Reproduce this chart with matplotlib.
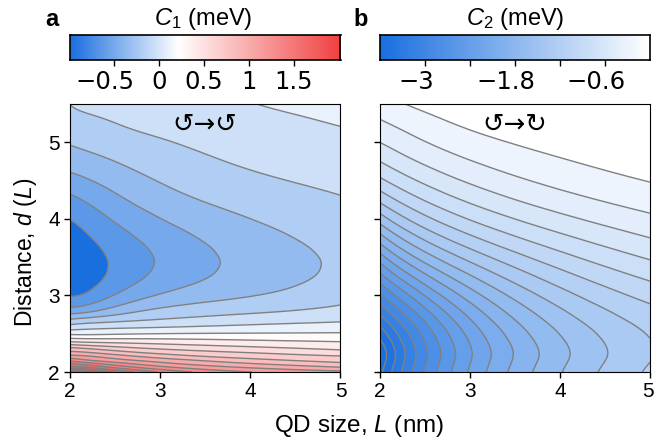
import numpy as np
import matplotlib
matplotlib.use("Agg")
import matplotlib.pyplot as plt
from matplotlib.colors import LinearSegmentedColormap, Normalize
from matplotlib.transforms import ScaledTranslation

W, H = 654, 443
FONT = "Liberation Sans"
plt.rcParams["font.family"] = FONT
plt.rcParams["mathtext.fontset"] = "custom"
plt.rcParams["mathtext.rm"] = FONT
plt.rcParams["mathtext.it"] = FONT + ":italic"
plt.rcParams["contour.negative_linestyle"] = "solid"

# ---- panel a: C1, in units of contour steps above C1_BASE
C1_BASE, C1_STEP = -0.88, 0.15
L_A = [2, 2.5, 3, 3.5, 4, 4.5, 5]
D_A = [2.0, 2.05, 2.1, 2.15, 2.2, 2.25, 2.3, 2.4, 2.5, 2.6, 2.7, 2.8, 2.9, 3.0,
       3.2, 3.4, 3.6, 3.8, 4.0, 4.3, 4.6, 5.0, 5.25, 5.5]
A_L20 = [21, 18, 16.4, 14.85, 13.45, 12.35, 11.45, 8.9, 6.8, 5.25, 3.85, 2.5, 1.6, 0.85,
         0.4, 0.2, 0.3, 0.6, 0.95, 1.97, 2.97, 4.03, 4.5, 5.0]
A_L25 = [18, 16.15, 14.7, 13.45, 12.55, 11.55, 10.6, 8.65, 6.88, 5.65, 4.5, 3.38, 2.67, 2.0,
         1.45, 1.1, 1.25, 1.68, 2.12, 2.88, 3.65, 4.5, 5.0, 5.4]
A_L30 = [16, 14.65, 13.55, 12.62, 11.7, 10.8, 10, 8.5, 7.0, 5.8, 4.95, 4.2, 3.65, 3.15,
         2.4, 2.05, 2.2, 2.55, 3.0, 3.62, 4.23, 5.0, 5.28, 5.55]
A_L35 = [14.6, 13.55, 12.65, 11.9, 11.0, 10.33, 9.65, 8.35, 7.06, 6.0, 5.12, 4.55, 4.0, 3.6,
         2.97, 2.8, 2.9, 3.2, 3.6, 4.15, 4.6, 5.2, 5.47, 5.74]
A_L40 = [14.1, 13.15, 12.25, 11.4, 10.65, 10.03, 9.38, 8.2, 7.08, 6.14, 5.4, 4.85, 4.35, 3.95,
         3.5, 3.35, 3.45, 3.68, 3.98, 4.47, 4.95, 5.43, 5.7, 5.98]
A_L45 = [13.6, 12.65, 11.77, 11.0, 10.37, 9.75, 9.12, 8.05, 7.08, 6.25, 5.58, 5.0, 4.6, 4.3,
         3.93, 3.75, 3.85, 4.05, 4.35, 4.8, 5.18, 5.65, 5.9, 6.15]
A_L50 = [13.3, 12.23, 11.33, 10.66, 10.1, 9.47, 8.88, 7.97, 7.11, 6.36, 5.75, 5.25, 4.9, 4.65,
         4.25, 4.15, 4.22, 4.4, 4.65, 4.98, 5.3, 5.75, 6.03, 6.27]

# ---- panel b: C2, in contour steps below zero
C2_STEP = -0.18
L_B = [2, 2.5, 3, 3.5, 4, 4.5, 5]
D_B = [2.0, 2.25, 2.5, 2.75, 3.0, 3.25, 3.5, 3.75, 4.0, 4.25, 4.5, 4.75, 5.0, 5.25, 5.5]
B_L20 = [20.3, 20.8, 19.55, 17.87, 16.2, 14.38, 12.33, 10.45, 8.54, 6.72, 5.28, 3.98, 2.95, 2.18, 1.5]
B_L25 = [15.9, 16.12, 15.8, 14.6, 13.0, 11.3, 9.47, 7.8, 6.28, 4.91, 3.79, 2.81, 2.03, 1.37, 0.75]
B_L30 = [12.9, 13.15, 12.65, 11.45, 10.3, 9.05, 7.65, 6.25, 4.9, 3.85, 2.85, 2.05, 1.45, 0.75, 0.4]
B_L35 = [10.7, 10.98, 10.49, 9.97, 8.92, 7.65, 6.37, 5.0, 3.98, 2.98, 2.16, 1.49, 0.9, 0.55, 0.2]
B_L40 = [9.0, 9.35, 8.95, 8.23, 7.44, 6.44, 5.16, 4.24, 3.31, 2.47, 1.73, 1.05, 0.65, 0.35, 0.18]
B_L45 = [7.85, 8.03, 7.8, 7.2, 6.48, 5.58, 4.51, 3.59, 2.75, 1.98, 1.3, 0.7, 0.45, 0.25, 0.12]
B_L50 = [6.85, 7.13, 6.93, 6.34, 5.63, 4.78, 3.86, 2.97, 2.2, 1.53, 0.9, 0.6, 0.35, 0.2, 0.1]

C1_TICKS = [-0.5, 0, 0.5, 1, 1.5]
C1_TICKLABELS = ["\u22120.5", "0", "0.5", "1", "1.5"]
C2_TICKS = [-3, -2.4, -1.8, -1.2, -0.6]
C2_TICKLABELS = ["\u22123", "", "\u22121.8", "", "\u22120.6"]
AXIS_TICKS = [2, 3, 4, 5]

BLUE, RED = "#1a6fdf", "#f14040"
C1_MIN, C1_WHITE, C1_MAX = -1.0, 0.21, 2.02
cmap_a = LinearSegmentedColormap.from_list(
    "bwr_a", [(0, BLUE), ((C1_WHITE - C1_MIN) / (C1_MAX - C1_MIN), "#ffffff"), (1, RED)], 256)
cmap_b = LinearSegmentedColormap.from_list("bw_b", [BLUE, "#ffffff"], 256)
norm_a = Normalize(vmin=C1_MIN, vmax=C1_MAX)
norm_b = Normalize(vmin=-3.6, vmax=0.0)
levels_a = C1_BASE + C1_STEP * np.arange(1, 22)
levels_b = np.sort(C2_STEP * np.arange(1, 22))

field_a = C1_BASE + C1_STEP * np.column_stack([A_L20, A_L25, A_L30, A_L35, A_L40, A_L45, A_L50]).astype(float)
field_b = C2_STEP * np.column_stack([B_L20, B_L25, B_L30, B_L35, B_L40, B_L45, B_L50]).astype(float)


def px_axes(fig, x0, x1, ytop, ybot):
    return fig.add_axes([x0 / W, 1 - ybot / H, (x1 - x0) / W, (ybot - ytop) / H])


def smooth_field(Ls, Ds, z, dmin, ddeg, ldeg):
    """Contour-ready surface through the read table: reading jitter is fitted out along d
    (rows at d >= dmin) and along L (in 1/L), then Hermite resampled in d."""
    Ls, Ds = np.asarray(Ls, float), np.asarray(Ds, float)
    z = z.copy()
    sel = Ds >= dmin
    for c in range(z.shape[1]):
        z[sel, c] = np.polyval(np.polyfit(Ds[sel], z[sel, c], ddeg), Ds[sel])
    lq = np.linspace(2, 5, 121)
    zl = np.array([np.polyval(np.polyfit(1 / Ls, row, ldeg), 1 / lq) for row in z])
    dq = np.linspace(2, 5.5, 351)
    m = np.gradient(zl, Ds, axis=0)
    i = np.clip(np.searchsorted(Ds, dq, side="right") - 1, 0, len(Ds) - 2)
    h = (Ds[i + 1] - Ds[i])[:, None]
    t = (dq - Ds[i])[:, None] / h
    zq = ((2 * t**3 - 3 * t**2 + 1) * zl[i] + (t**3 - 2 * t**2 + t) * h * m[i]
          + (-2 * t**3 + 3 * t**2) * zl[i + 1] + (t**3 - t**2) * h * m[i + 1])
    return lq, dq, zq


def draw_field(ax, Ls, Ds, z, levels, cmap, norm, dmin, ddeg, ldeg):
    lq, dq, zq = smooth_field(Ls, Ds, z, dmin, ddeg, ldeg)
    ax.contourf(lq, dq, zq, levels=levels, cmap=cmap, norm=norm, extend="both")
    ax.contour(lq, dq, zq, levels=levels, colors="#808080", linewidths=1.0)
    ax.set_xlim(2, 5)
    ax.set_ylim(2, 5.5)
    ax.set_xticks(AXIS_TICKS)
    ax.set_yticks(AXIS_TICKS)
    ax.tick_params(labelsize=15, length=4, width=1, pad=3)


def draw_bar(cax, cmap, norm, ticks, labels):
    cax.imshow(np.linspace(norm.vmin, norm.vmax, 512)[None, :], cmap=cmap, norm=norm, aspect="auto",
               extent=[norm.vmin, norm.vmax, 0, 1])
    cax.set_yticks([])
    cax.set_xticks(ticks, labels, fontfamily="DejaVu Sans", fontsize=17.5)
    cax.tick_params(length=4, width=1, pad=3)
    for s in cax.spines.values():
        s.set_linewidth(1.2)
    # the reference centres the digits, not the minus sign, under the tick
    for t in cax.get_xticklabels():
        if t.get_text().startswith("\u2212"):
            t.set_transform(t.get_transform() + ScaledTranslation(-9 / 100, 0, cax.figure.dpi_scale_trans))


fig = plt.figure(figsize=(W / 100, H / 100), dpi=100)
ax_a = px_axes(fig, 69.5, 340.5, 104, 372)
ax_b = px_axes(fig, 380, 650, 104, 372)
cax_a = px_axes(fig, 69.5, 340.5, 35, 60)
cax_b = px_axes(fig, 380, 650, 35, 60)

draw_field(ax_a, L_A, D_A, field_a, levels_a, cmap_a, norm_a, 2.7, 6, 4)
draw_field(ax_b, L_B, D_B, field_b, levels_b, cmap_b, norm_b, 2.0, 7, 3)
ax_b.set_yticklabels([])
ax_a.set_ylabel("Distance, $d$ ($L$)", fontsize=16.5)
ax_a.yaxis.set_label_coords(-0.112, 0.445)
last = ax_b.get_xticklabels()[-1]
last.set_transform(last.get_transform() + ScaledTranslation(-2 / 100, 0, fig.dpi_scale_trans))

draw_bar(cax_a, cmap_a, norm_a, C1_TICKS, C1_TICKLABELS)
draw_bar(cax_b, cmap_b, norm_b, C2_TICKS, C2_TICKLABELS)

fig.text(359 / W, 1 - 426 / H, "QD size, $L$ (nm)", ha="center", va="center", fontsize=17.5)
fig.text(203 / W, 1 - 19 / H, "$C_1$ (meV)", ha="center", va="center", fontsize=17)
fig.text(515 / W, 1 - 19 / H, "$C_2$ (meV)", ha="center", va="center", fontsize=17)
fig.text(52 / W, 1 - 19 / H, "a", ha="center", va="center", fontsize=17, fontweight="bold")
fig.text(361 / W, 1 - 19 / H, "b", ha="center", va="center", fontsize=17, fontweight="bold")
fig.text(204.5 / W, 1 - 125 / H, "\u21ba\u2192\u21ba", ha="center", va="center", fontsize=18.5, family="DejaVu Sans")
fig.text(514.5 / W, 1 - 125 / H, "\u21ba\u2192\u21bb", ha="center", va="center", fontsize=18.5, family="DejaVu Sans")

fig.savefig("out.png", dpi=100)
